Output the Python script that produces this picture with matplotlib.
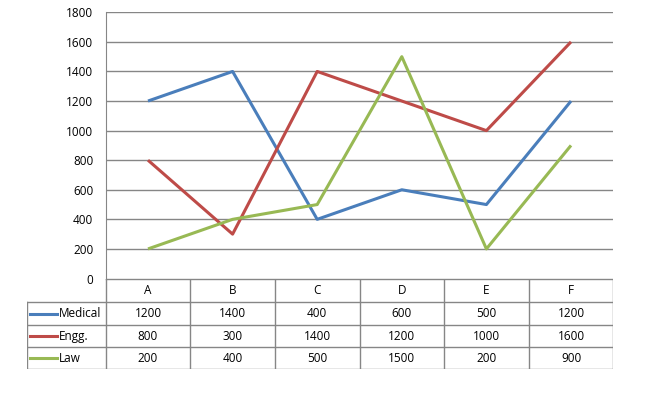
import matplotlib.pyplot as plt
import numpy as np

# Data
categories = ['A', 'B', 'C', 'D', 'E', 'F']
series_names = ['Medical', 'Engg.', 'Law']
medical = [1200, 1400, 400, 600, 500, 1200]
engg = [800, 300, 1400, 1200, 1000, 1600]
law = [200, 400, 500, 1500, 200, 900]
colors = ['#4A7EBB', '#BE4B48', '#98B954']
yticks = list(range(0, 1801, 200))

W, H = 665, 394
fig = plt.figure(figsize=(W / 100, H / 100), dpi=100)
plt.rcParams['font.family'] = ['Open Sans', 'DejaVu Sans']
grid_col = '#868686'
fs = 8.5

# Plot area in pixel terms
x0, x1 = 105.7, 613.3
y_top, y_bot = 12.3, 278.5
ax = fig.add_axes([x0 / W, 1 - y_bot / H, (x1 - x0) / W, (y_bot - y_top) / H])
ax.set_xlim(-0.5, len(categories) - 0.5)
ax.set_ylim(0, 1800)
ax.set_yticks(yticks)
ax.set_yticklabels([str(v) for v in yticks], fontsize=fs)
ax.set_xticks([])
ax.tick_params(axis='y', length=0, pad=9)
ax.yaxis.grid(True, color=grid_col, linewidth=1)
ax.set_axisbelow(True)
for s in ['top', 'right', 'bottom']:
    ax.spines[s].set_visible(False)
ax.spines['left'].set_color(grid_col)

all_series = [medical, engg, law]
xs = np.arange(len(categories))
for vals, c in zip(all_series, colors):
    ax.plot(xs, vals, color=c, linewidth=2.2, solid_capstyle='butt')

# Data table
tx0 = 26.7
row_edges = [278.5, 302.3, 325.3, 347.3, 369.0]
tab = fig.add_axes([tx0 / W, 1 - row_edges[-1] / H, (x1 - tx0) / W,
                    (row_edges[-1] - row_edges[0]) / H])
tab.set_xlim(tx0, x1)
tab.set_ylim(row_edges[-1], row_edges[0])
tab.axis('off')
col_w = (x1 - x0) / len(categories)
lk = dict(color=grid_col, linewidth=1)
# horizontal lines
tab.plot([x0, x1], [row_edges[0]] * 2, **lk)
for y in row_edges[1:]:
    tab.plot([tx0, x1], [y, y], **lk)
# vertical lines
for i in range(len(categories) + 1):
    xv = x0 + i * col_w
    tab.plot([xv, xv], [row_edges[0], row_edges[-1]], **lk)
tab.plot([tx0, tx0], [row_edges[1], row_edges[-1]], **lk)

for i, cat in enumerate(categories):
    cx = x0 + (i + 0.5) * col_w
    tab.text(cx, (row_edges[0] + row_edges[1]) / 2, cat, ha='center', va='center', fontsize=fs)
    for r, vals in enumerate(all_series):
        cy = (row_edges[r + 1] + row_edges[r + 2]) / 2
        tab.text(cx, cy, str(vals[i]), ha='center', va='center', fontsize=fs)

for r, (name, c) in enumerate(zip(series_names, colors)):
    cy = (row_edges[r + 1] + row_edges[r + 2]) / 2
    tab.plot([30, 57], [cy, cy], color=c, linewidth=2.2)
    tab.text(59, cy, name, ha='left', va='center', fontsize=fs)

fig.savefig('out.png', dpi=100)
